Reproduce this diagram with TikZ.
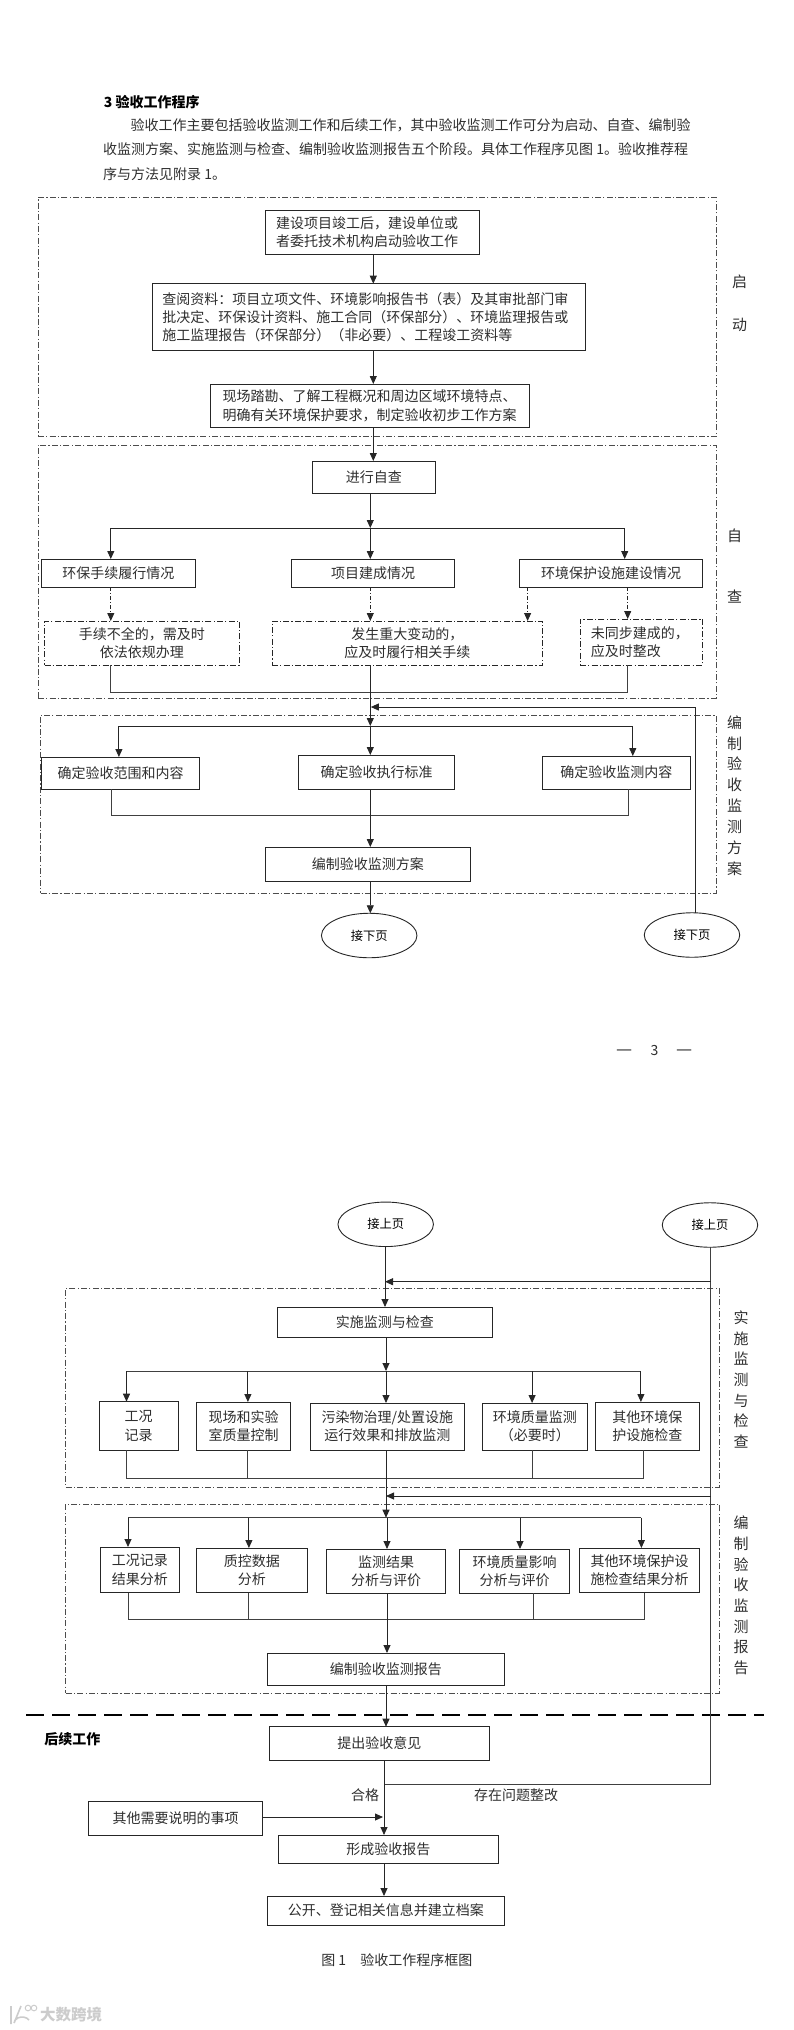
\documentclass[tikz,border=0pt]{standalone}
\usepackage{fontspec}
\setmainfont{Noto Sans CJK SC}
\usetikzlibrary{arrows.meta,shapes.geometric}
\newcommand{\CnT}{\fontsize{14}{18.3}\selectfont}
\newcommand{\CnS}{\fontsize{12.3}{14}\selectfont}

\begin{document}
\begin{tikzpicture}[x=1pt,y=-1pt]
	\tikzstyle{boxs} = [draw=black!85, line width=1pt, rectangle, inner sep=0pt, outer sep=0pt, font=\CnT, text=black!82, align=center]
	\tikzstyle{boxsD} = [boxs, dash pattern=on 6pt off 2.2pt on 1.2pt off 2.2pt, line width=.9pt]
	\tikzstyle{oval} = [draw=black!85, line width=.9pt, ellipse, inner sep=0pt, outer sep=0pt, minimum width=95.5pt, minimum height=44.5pt, font=\CnS]
	\tikzstyle{zone} = [draw=black!70, line width=.9pt, rectangle, inner sep=0pt, outer sep=0pt, dash pattern=on 6pt off 2.2pt on 1.2pt off 2.2pt]
	\tikzstyle{plain} = [inner sep=0pt, font=\CnT, text=black!82, align=center]
	\tikzstyle{line} = [draw=black!85, line width=.9pt, -{Triangle[length=8pt,width=7pt]}]
	\tikzstyle{lineN} = [draw=black!75, line width=.9pt]
	\tikzstyle{lineD} = [line, dash pattern=on 4pt off 2pt on 1pt off 2pt]

	\useasboundingbox (0,0) rectangle (793,2030);

	% intro
	\node(Title)[plain,anchor=west,text=black,font=\CnT\bfseries] at (103.7,101.7){3 验收工作程序};
	\node(IntroA)[plain,anchor=west] at (130.5,125.7){验收工作主要包括验收监测工作和后续工作，其中验收监测工作可分为启动、自查、编制验};
	\node(IntroB)[plain,anchor=west] at (103,149){收监测方案、实施监测与检查、编制验收监测报告五个阶段。具体工作程序见图 1。验收推荐程};
	\node(IntroC)[plain,anchor=west] at (103,173.7){序与方法见附录 1。};

	% zones
	\node(ZoneStart)[zone,minimum width=678pt,minimum height=239.4pt] at (377,317){};
	\node(ZoneSelf)[zone,minimum width=678pt,minimum height=253pt] at (377,571.5){};
	\node(ZonePlan)[zone,minimum width=675.5pt,minimum height=178pt] at (378.25,804){};
	\node(ZoneDo)[zone,minimum width=653.5pt,minimum height=199pt] at (392.55,1387.5){};
	\node(ZoneReport)[zone,minimum width=653.5pt,minimum height=189pt] at (392.55,1598.5){};

	\node(SideStart)[plain,font=\fontsize{15}{18.3}\selectfont] at (739.5,303.5){启\\[25pt]动};
	\node(SideSelf)[plain,font=\fontsize{15}{18.3}\selectfont] at (734.5,566){自\\[43pt]查};
	\node(SidePlan)[plain,font=\fontsize{15}{20.9}\selectfont] at (734.5,795.5){编\\制\\验\\收\\监\\测\\方\\案};
	\node(SideDo)[plain,font=\fontsize{15}{20.7}\selectfont] at (741,1379.5){实\\施\\监\\测\\与\\检\\查};
	\node(SideReport)[plain,font=\fontsize{15}{20.7}\selectfont] at (741,1595.5){编\\制\\验\\收\\监\\测\\报\\告};

	% start
	\node(Begin)[boxs,align=left,text width=192.6pt,minimum width=214pt,minimum height=44.7pt] at (372.5,232.35){建设项目竣工后，建设单位或\\者委托技术机构启动验收工作};
	\node(Files)[boxs,align=left,text width=413.7pt,minimum width=432.9pt,minimum height=66.6pt] at (369.25,317){查阅资料：项目立项文件、环境影响报告书（表）及其审批部门审\\批决定、环保设计资料、施工合同（环保部分）、环境监理报告或\\施工监理报告（环保部分）（非必要）、工程竣工资料等};
	\node(Survey)[boxs,align=left,text width=294pt,minimum width=319pt,minimum height=43.7pt] at (369.5,405.85){现场踏勘、了解工程概况和周边区域环境特点、\\明确有关环境保护要求，制定验收初步工作方案};

	% self check
	\node(SelfCheck)[boxs,minimum width=123.5pt,minimum height=32.7pt] at (373.75,477.35){进行自查};
	\node(Permit)[boxs,minimum width=153.5pt,minimum height=28pt] at (118.25,573){环保手续履行情况};
	\node(Built)[boxs,minimum width=163.4pt,minimum height=28pt] at (373,573){项目建成情况};
	\node(Facility)[boxs,minimum width=183.1pt,minimum height=28pt] at (611,573){环境保护设施建设情况};
	\node(FixPermit)[boxsD,minimum width=194.8pt,minimum height=44pt] at (141.9,643){手续不全的，需及时\\依法依规办理};
	\node(FixBuilt)[boxsD,minimum width=270.8pt,minimum height=44pt] at (407.4,643){发生重大变动的，\\应及时履行相关手续};
	\node(FixFacility)[boxsD,align=left,text width=101pt,minimum width=122.6pt,minimum height=46pt] at (641.3,642){未同步建成的，\\应及时整改};

	% plan
	\node(Scope)[boxs,minimum width=158.3pt,minimum height=32pt] at (120.65,773){确定验收范围和内容};
	\node(Standard)[boxs,minimum width=156.3pt,minimum height=34pt] at (376.55,772){确定验收执行标准};
	\node(Content)[boxs,minimum width=148.2pt,minimum height=33pt] at (616.3,772.5){确定验收监测内容};
	\node(Scheme)[boxs,minimum width=204.9pt,minimum height=34pt] at (367.95,864){编制验收监测方案};
	\node(NextL)[oval] at (369.2,935.5){接下页};
	\node(NextR)[oval] at (692,935){接下页};

	\node(PageNo)[plain] at (654.5,1050){\fontsize{18}{18}\selectfont —\hspace{18.5pt}\CnT 3\hspace{18.5pt}\fontsize{18}{18}\selectfont —};

	% second page
	\node(PrevL)[oval] at (385.7,1224.3){接上页};
	\node(PrevR)[oval] at (710,1225){接上页};
	\node(Implement)[boxs,minimum width=214.5pt,minimum height=30pt] at (384.95,1322){实施监测与检查};
	\node(Work)[boxs,minimum width=78.9pt,minimum height=48.6pt] at (138.55,1426){工况\\记录};
	\node(Quality)[boxs,minimum width=94.5pt,minimum height=48pt] at (243.55,1426){现场和实验\\室质量控制};
	\node(Treat)[boxs,minimum width=153.7pt,minimum height=47pt] at (387.45,1426.5){污染物治理/处置设施\\运行效果和排放监测};
	\node(EnvMon)[boxs,minimum width=105.8pt,minimum height=47pt] at (534.9,1426.5){环境质量监测\\（必要时）};
	\node(Other)[boxs,minimum width=104.2pt,minimum height=48pt] at (647.4,1426){其他环境保\\护设施检查};

	\node(WorkRes)[boxs,minimum width=79.4pt,minimum height=45.7pt] at (139.9,1569.85){工况记录\\结果分析};
	\node(QualRes)[boxs,minimum width=110.2pt,minimum height=44.7pt] at (251.9,1570.35){质控数据\\分析};
	\node(MonRes)[boxs,minimum width=118.8pt,minimum height=44pt] at (386.2,1571){监测结果\\分析与评价};
	\node(EnvRes)[boxs,minimum width=109.8pt,minimum height=44pt] at (514.7,1571){环境质量影响\\分析与评价};
	\node(OtherRes)[boxs,minimum width=119.8pt,minimum height=44.7pt] at (639.6,1570.35){其他环境保护设\\施检查结果分析};
	\node(Report)[boxs,minimum width=236.7pt,minimum height=32.7pt] at (385.95,1669.35){编制验收监测报告};

	% follow-up
	\coordinate(SepL) at (26.3,1714.7);
	\coordinate(SepR) at (763.8,1714.7);
	\draw[black,line width=2.3pt,dash pattern=on 18pt off 8pt] (SepL) -- (SepR);
	\node(After)[plain,text=black,font=\CnT\bfseries] at (72.3,1739){后续工作};
	\node(Opinion)[boxs,minimum width=219.5pt,minimum height=33.3pt] at (379.35,1743.35){提出验收意见};
	\node(Pass)[plain] at (365,1795){合格};
	\node(Problem)[plain] at (516,1795){存在问题整改};
	\node(Notes)[boxs,minimum width=174pt,minimum height=34pt] at (175.5,1818){其他需要说明的事项};
	\node(Accept)[boxs,minimum width=219.5pt,minimum height=28.7pt] at (388.45,1849.35){形成验收报告};
	\node(Archive)[boxs,minimum width=236.7pt,minimum height=29pt] at (385.95,1910.5){公开、登记相关信息并建立档案};
	\node(Caption)[plain] at (396.8,1960){图 1\hspace{14pt}验收工作程序框图};

	\node(Mark)[plain,anchor=west,text=black!20,font=\fontsize{15.5}{16}\selectfont\bfseries] at (40,2015){大数跨境};
	\draw[black!20,line width=1.6pt] (11,2006) -- (11,2024) (29,2020) arc (-30:-180:8 and 6) -- (21,2006);
	\draw[black!20,line width=1pt] (28,2008) circle (2.8) (34,2008) circle (2.8);

	% connectors, start
	\coordinate(TrunkA) at (373.3,300);
	\draw[line] (Begin.south -| TrunkA) -- (Files.north -| TrunkA);
	\draw[line] (Files.south -| TrunkA) -- (Survey.north -| TrunkA);
	\draw[line] (Survey.south -| TrunkA) -- (SelfCheck.north -| TrunkA);

	% connectors, self check
	\coordinate(JoinA) at (370.3,528);
	\coordinate(JoinAL) at (110.8,528);
	\coordinate(JoinAR) at (624.7,528);
	\draw[line] (SelfCheck.south -| JoinA) -- (JoinA);
	\draw[line] (JoinA) -- (JoinA |- Built.north);
	\draw[line] (JoinAL -| JoinA) -- (JoinAL) -- (JoinAL |- Permit.north);
	\draw[line] (JoinAR -| JoinA) -- (JoinAR) -- (JoinAR |- Facility.north);

	\coordinate(DropA) at (527.6,600);
	\coordinate(DropB) at (627.7,600);
	\draw[lineD] (Permit.south -| JoinAL) -- (FixPermit.north -| JoinAL);
	\draw[lineD] (Built.south -| JoinA) -- (FixBuilt.north -| JoinA);
	\draw[lineD] (Facility.south -| DropA) -- (FixBuilt.north -| DropA);
	\draw[lineD] (Facility.south -| DropB) -- (FixFacility.north -| DropB);

	\coordinate(JoinB) at (370.3,692);
	\coordinate(JoinBL) at (110.8,692);
	\coordinate(JoinBR) at (627.7,692);
	\coordinate(JoinC) at (370.3,726);
	\draw[lineN] (FixPermit.south -| JoinBL) -- (JoinBL) -- (JoinBR) -- (FixFacility.south -| JoinBR);
	\draw[line] (FixBuilt.south -| JoinB) -- (JoinC);

	% connectors, plan
	\coordinate(TurnA) at (695.5,707);
	\coordinate(ReturnA) at (370.8,707);
	\draw[line] (NextR.north -| TurnA) -- (TurnA) -- (ReturnA);

	\coordinate(JoinCL) at (118.9,726);
	\coordinate(JoinCR) at (632.8,726);
	\draw[line] (JoinC) -- (JoinC |- Standard.north);
	\draw[line] (JoinC) -- (JoinCL) -- (JoinCL |- Scope.north);
	\draw[line] (JoinC) -- (JoinCR) -- (JoinCR |- Content.north);

	\coordinate(JoinD) at (370.3,815);
	\coordinate(JoinDL) at (111.3,815);
	\coordinate(JoinDR) at (628.7,815);
	\draw[lineN] (Scope.south -| JoinDL) -- (JoinDL) -- (JoinDR) -- (Content.south -| JoinDR);
	\draw[line] (Standard.south -| JoinD) -- (Scheme.north -| JoinD);
	\draw[line] (Scheme.south -| JoinD) -- (NextL.north -| JoinD);

	% connectors, second page
	\coordinate(TurnE) at (710.7,1281.7);
	\coordinate(ReturnE) at (385,1281.7);
	\coordinate(TurnF) at (710.7,1496);
	\coordinate(ReturnF) at (386,1496);
	\coordinate(TurnG) at (710.7,1784);
	\coordinate(JoinK) at (384,1784);
	\draw[line] (PrevL.south -| ReturnE) -- (Implement.north -| ReturnE);
	\draw[lineN] (PrevR.south -| TurnE) -- (TurnG) -- (JoinK);
	\draw[line] (TurnE) -- (ReturnE);
	\draw[line] (TurnF) -- (ReturnF);

	\coordinate(JoinF) at (386,1371);
	\coordinate(JoinFa) at (126.5,1371);
	\coordinate(JoinFb) at (247.9,1371);
	\coordinate(JoinFd) at (532.1,1371);
	\coordinate(JoinFe) at (640.9,1371);
	\draw[line] (Implement.south -| JoinF) -- (JoinF);
	\draw[lineN] (JoinFa) -- (JoinFe);
	\draw[line] (JoinFa) -- (JoinFa |- Work.north);
	\draw[line] (JoinFb) -- (JoinFb |- Quality.north);
	\draw[line] (JoinF) -- (JoinF |- Treat.north);
	\draw[line] (JoinFd) -- (JoinFd |- EnvMon.north);
	\draw[line] (JoinFe) -- (JoinFe |- Other.north);

	\coordinate(JoinG) at (386,1478);
	\coordinate(JoinGa) at (126.5,1478);
	\coordinate(JoinGb) at (247.9,1478);
	\coordinate(JoinGd) at (532.1,1478);
	\coordinate(JoinGe) at (643.4,1478);
	\coordinate(JoinH) at (386,1517.7);
	\draw[lineN] (Work.south -| JoinGa) -- (JoinGa) -- (JoinGe) -- (Other.south -| JoinGe);
	\draw[lineN] (Quality.south -| JoinGb) -- (JoinGb);
	\draw[lineN] (EnvMon.south -| JoinGd) -- (JoinGd);
	\draw[line] (Treat.south -| JoinG) -- (JoinH);

	\coordinate(JoinHa) at (128,1517.7);
	\coordinate(JoinHb) at (248.9,1517.7);
	\coordinate(JoinHc) at (387,1517.7);
	\coordinate(JoinHd) at (520,1517.7);
	\coordinate(JoinHe) at (641.4,1517.7);
	\draw[lineN] (JoinHa) -- (JoinHe);
	\draw[line] (JoinHa) -- (JoinHa |- WorkRes.north);
	\draw[line] (JoinHb) -- (JoinHb |- QualRes.north);
	\draw[line] (JoinHc) -- (JoinHc |- MonRes.north);
	\draw[line] (JoinHd) -- (JoinHd |- EnvRes.north);
	\draw[line] (JoinHe) -- (JoinHe |- OtherRes.north);

	\coordinate(JoinI) at (387,1619.7);
	\coordinate(JoinIa) at (128,1619.7);
	\coordinate(JoinIb) at (248.9,1619.7);
	\coordinate(JoinId) at (533.1,1619.7);
	\coordinate(JoinIe) at (644.4,1619.7);
	\draw[lineN] (WorkRes.south -| JoinIa) -- (JoinIa) -- (JoinIe) -- (OtherRes.south -| JoinIe);
	\draw[lineN] (QualRes.south -| JoinIb) -- (JoinIb);
	\draw[lineN] (EnvRes.south -| JoinId) -- (JoinId);
	\draw[line] (MonRes.south -| JoinI) -- (Report.north -| JoinI);

	% connectors, follow-up
	\coordinate(TrunkJ) at (386,1700);
	\coordinate(JoinL) at (383,1817);
	\draw[line] (Report.south -| TrunkJ) -- (Opinion.north -| TrunkJ);
	\draw[line] (Opinion.south -| JoinK) -- (Accept.north -| JoinK);
	\draw[line] (Notes.east |- JoinL) -- (JoinL);
	\draw[line] (Accept.south -| JoinK) -- (Archive.north -| JoinK);
\end{tikzpicture}
\end{document}
